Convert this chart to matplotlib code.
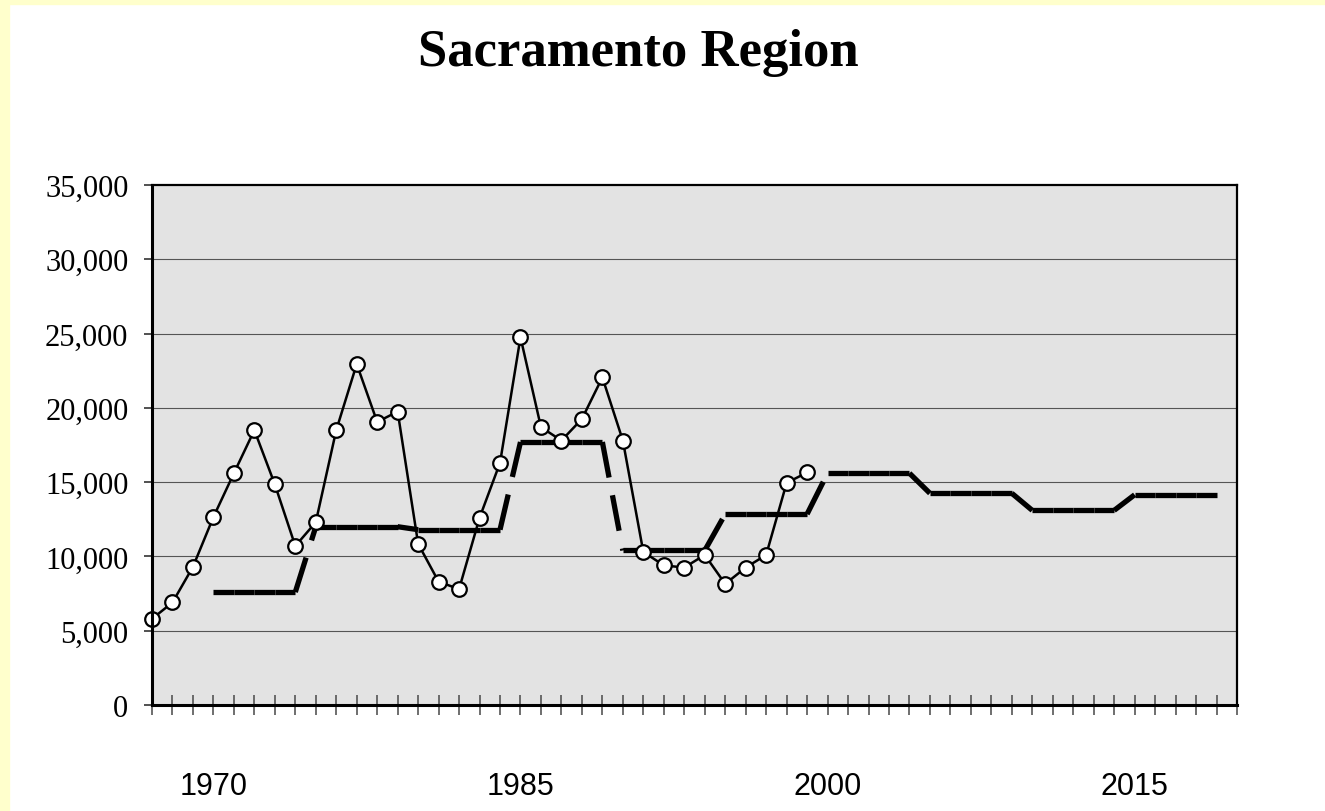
import matplotlib.pyplot as plt

# annual values, circle series
obs_years = list(range(1967, 2000))
obs_values = [5800, 6900, 9300, 12650, 15600, 18500, 14850, 10700, 12300, 18500,
              22950, 19050, 19750, 10850, 8300, 7800, 12600, 16300, 24750, 18700,
              17800, 19250, 22050, 17800, 10300, 9400, 9250, 10100, 8150, 9250,
              10100, 14950, 15650]

# five-year periods, thick step series
period_starts = [1970, 1975, 1980, 1985, 1990, 1995, 2000, 2005, 2010, 2015]
period_values = [7600, 12000, 11800, 17700, 10400, 12850, 15600, 14250, 13100, 14150]

step_years = []
step_values = []
for start, val in zip(period_starts, period_values):
    for y in range(start, start + 5):
        step_years.append(y)
        step_values.append(val)

label_years = [1970, 1985, 2000, 2015]

plt.rcParams['lines.scale_dashes'] = False

fig = plt.figure(figsize=(13.25, 8.12), dpi=100, facecolor='white')
# yellow frame on the left and top
fig.patches.append(plt.Rectangle((0, 0), 9 / 1325, 1, transform=fig.transFigure,
                                 color='#FFFFCC', zorder=0))
fig.patches.append(plt.Rectangle((0, 1 - 5 / 812), 1, 5 / 812, transform=fig.transFigure,
                                 color='#FFFFCC', zorder=0))

ax = fig.add_axes([152 / 1325, 1 - 706 / 812, (1237 - 152) / 1325, (706 - 186) / 812])
ax.set_facecolor('#E3E3E3')

ax.set_xlim(1967, 2020)
ax.set_ylim(0, 35000)

for yv in range(5000, 35000, 5000):
    ax.axhline(yv, color='#555555', lw=0.8, zorder=1)

# thick step line, dash pattern restarts on every segment
for i in range(len(step_years) - 1):
    ax.plot(step_years[i:i + 2], step_values[i:i + 2], color='black', lw=3.8,
            linestyle=(0, (26, 13)), dash_capstyle='butt', solid_capstyle='butt', zorder=3)

ax.plot(obs_years, obs_values, color='black', lw=1.8, marker='o', markersize=10.5,
        markerfacecolor='white', markeredgecolor='black', markeredgewidth=1.6,
        zorder=4, clip_on=False)

ax.set_xticks(range(1967, 2021))
ax.set_xticklabels([str(y) if y in label_years else '' for y in range(1967, 2021)],
                   fontfamily='Liberation Sans', fontsize=22)
ax.tick_params(axis='x', direction='inout', length=15, width=1.2, color='#555555', pad=40)

ax.set_yticks(range(0, 35001, 5000))
ax.set_yticklabels([f'{v:,}' for v in range(0, 35001, 5000)],
                   fontfamily='Liberation Serif', fontsize=22)
ax.tick_params(axis='y', direction='out', length=6, width=1.2, color='#333333', pad=11)

for side in ['left', 'bottom']:
    ax.spines[side].set_linewidth(2.2)
for side in ['top', 'right']:
    ax.spines[side].set_linewidth(1.6)
for s in ax.spines.values():
    s.set_zorder(5)

fig.text(638 / 1325, 1 - 66 / 812, 'Sacramento Region', ha='center', va='baseline',
         fontfamily='Liberation Serif', fontweight='bold', fontsize=38)

fig.savefig('out.png', dpi=100, facecolor=fig.get_facecolor())
